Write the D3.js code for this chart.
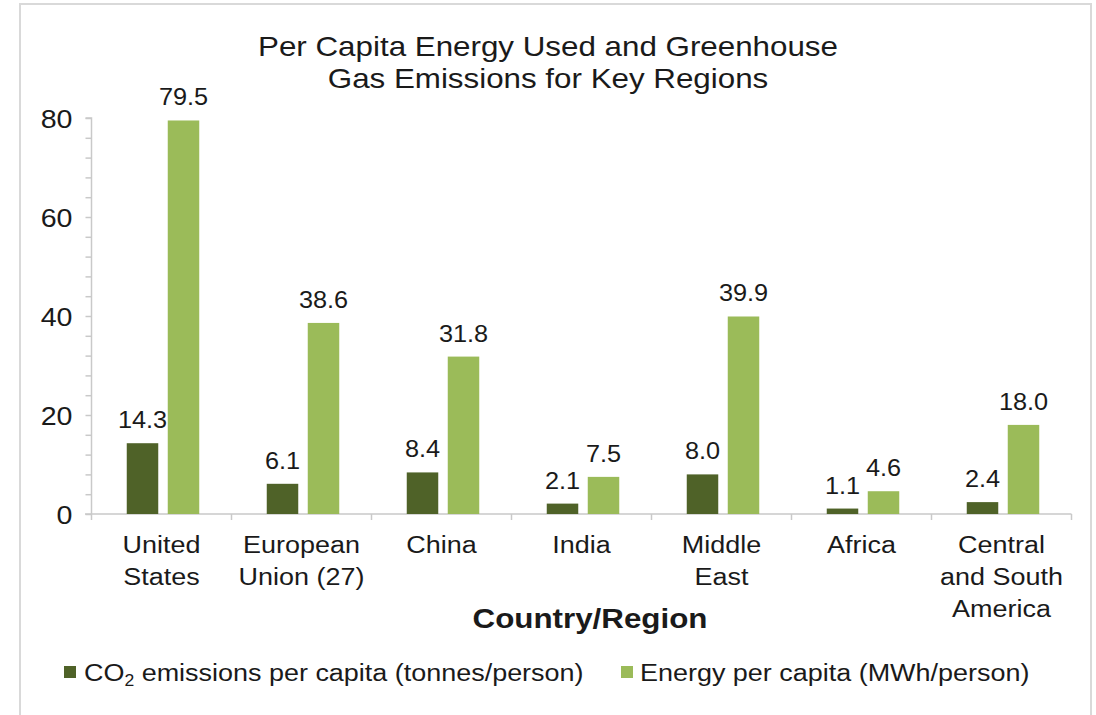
<!DOCTYPE html>
<html>
<head>
<meta charset="utf-8">
<script src="https://cdn.jsdelivr.net/npm/d3@7"></script>
<style>
  html, body { margin: 0; padding: 0; background: #ffffff; }
  svg { display: block; }
  text { font-family: "Liberation Sans", Arial, Helvetica, sans-serif; fill: #1a1a1a; }
</style>
</head>
<body>
<svg id="chart" width="1096" height="715"></svg>
<script>
// Data
const categories = ["United\nStates", "European\nUnion (27)", "China", "India", "Middle\nEast", "Africa", "Central\nand South\nAmerica"];
const co2PerCapita = [14.3, 6.1, 8.4, 2.1, 8.0, 1.1, 2.4];      // tonnes/person
const energyPerCapita = [79.5, 38.6, 31.8, 7.5, 39.9, 4.6, 18.0]; // MWh/person
const yMajorTicks = [0, 20, 40, 60, 80];
const seriesNames = ["CO\u2082 emissions per capita (tonnes/person)", "Energy per capita (MWh/person)"];

const colors = { co2: "#4f6228", energy: "#9bbb59", axis: "#c9c9c9", frame: "#d9d9d9" };
const SX = 1.1; // horizontal text stretch

const svg = d3.select("#chart");

// Outer frame
svg.append("rect")
  .attr("x", 20).attr("y", 4).attr("width", 1071).attr("height", 730)
  .attr("fill", "#fff").attr("stroke", colors.frame).attr("stroke-width", 2);

const x = d3.scaleBand().domain(categories).range([91.5, 1071.5]).padding(0);
const y = d3.scaleLinear().domain([0, 80]).range([514, 118]);

function stretchedText(parent, px, py, size, anchor, weight) {
  return parent.append("text")
    .attr("transform", `translate(${px},${py}) scale(${SX},1)`)
    .attr("font-size", size)
    .attr("font-weight", weight || "normal")
    .attr("text-anchor", anchor || "middle");
}

// Title
const titleLines = ["Per Capita Energy Used and Greenhouse", "Gas Emissions for Key Regions"];
titleLines.forEach((t, i) => {
  stretchedText(svg, 548, 56 + i * 32, 28.5, "middle").text(t);
});

// Y axis
const yAxis = d3.axisLeft(y)
  .tickValues(d3.range(0, 81, 4))
  .tickSize(6)
  .tickPadding(13)
  .tickFormat(d => yMajorTicks.includes(d) ? d : "");
const gy = svg.append("g").attr("transform", "translate(91.5,0)").call(yAxis);
gy.select(".domain").attr("stroke", colors.axis).attr("stroke-width", 1.5).attr("d", `M-6,${y(80)}H0V${y(0)}`);
gy.selectAll(".tick line").attr("stroke", colors.axis).attr("stroke-width", 1.5);
gy.selectAll(".tick text").each(function () {
  const t = d3.select(this);
  const tx = +t.attr("x");
  t.attr("x", 0).attr("dy", "0.35em")
    .attr("transform", `translate(${tx},0) scale(${SX},1)`)
    .attr("font-size", 26).attr("font-family", null).attr("fill", "#1a1a1a");
});

// X axis baseline and category boundary ticks
const bw = x.bandwidth();
const gx = svg.append("g").attr("transform", `translate(0,${y(0)})`);
gx.append("line")
  .attr("x1", 85).attr("x2", x.range()[1]).attr("y1", 0).attr("y2", 0)
  .attr("stroke", colors.axis).attr("stroke-width", 1.5);
const edges = categories.map(c => x(c)).concat([x(categories[categories.length - 1]) + bw]);
gx.selectAll("line.edge").data(edges).join("line")
  .attr("class", "edge")
  .attr("x1", d => d).attr("x2", d => d).attr("y1", 0).attr("y2", 6)
  .attr("stroke", colors.axis).attr("stroke-width", 1.5);

// Category labels
categories.forEach(c => {
  const t = stretchedText(svg, x(c) + bw / 2, 553, 24.5, "middle");
  c.split("\n").forEach((line, i) => {
    t.append("tspan").attr("x", 0).attr("y", i * 32).text(line);
  });
});

// Bars
const barW = 31.5, gap = 9.5, shift = 1.5;
const rows = categories.map((c, i) => ({ c, co2: co2PerCapita[i], energy: energyPerCapita[i] }));
const series = [
  { key: "co2", color: colors.co2, dx: bw / 2 - gap / 2 - barW + shift },
  { key: "energy", color: colors.energy, dx: bw / 2 + gap / 2 + shift }
];
series.forEach(s => {
  svg.append("g").selectAll("rect").data(rows).join("rect")
    .attr("x", d => x(d.c) + s.dx)
    .attr("y", d => y(d[s.key]))
    .attr("width", barW)
    .attr("height", d => y(0) - y(d[s.key]))
    .attr("fill", s.color);
  rows.forEach(d => {
    stretchedText(svg, x(d.c) + s.dx + barW / 2, y(d[s.key]) - 15, 23, "middle")
      .text(d[s.key].toFixed(1));
  });
});

// Axis title
stretchedText(svg, 590, 628, 28.5, "middle", "bold").text("Country/Region");

// Legend
const legend = [
  { color: colors.co2, sx: 64, tx: 84 },
  { color: colors.energy, sx: 621, tx: 640 }
];
legend.forEach((l, i) => {
  svg.append("rect").attr("x", l.sx).attr("y", 666).attr("width", 12).attr("height", 12).attr("fill", l.color);
  const t = stretchedText(svg, l.tx, 681, 24.5, "start");
  if (i === 0) {
    t.append("tspan").text("CO");
    t.append("tspan").attr("font-size", 16).attr("dy", 5).text("2");
    t.append("tspan").attr("dy", -5).text(" emissions per capita (tonnes/person)");
  } else {
    t.text(seriesNames[1]);
  }
});
</script>
</body>
</html>
